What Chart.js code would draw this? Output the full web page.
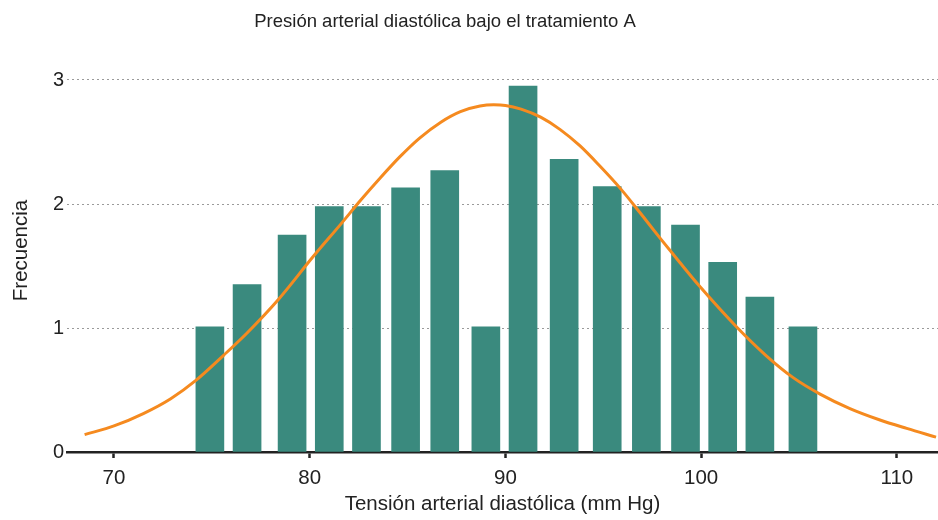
<!DOCTYPE html>
<html>
<head>
<meta charset="utf-8">
<script src="https://cdn.jsdelivr.net/npm/chart.js@4/dist/chart.umd.min.js"></script>
<style>
  html, body { margin: 0; padding: 0; background: #fff; }
  #wrap { width: 938px; height: 520px; }
</style>
</head>
<body>
<div id="wrap"><canvas id="bpChart" width="938" height="520"></canvas></div>
<script>
// histogram bins (bin centre, mm Hg) and their frequencies
const binCenters = [74.9, 76.8, 79.1, 81.0, 82.9, 84.9, 86.9, 89.0, 90.9, 93.0, 95.2, 97.2, 99.2, 101.1, 103.0, 105.2];
const frequencies = [1.01, 1.35, 1.75, 1.98, 1.98, 2.13, 2.27, 1.01, 2.95, 2.36, 2.14, 1.98, 1.83, 1.53, 1.25, 1.01];

// fitted density curve, scaled to the frequency axis
const curveX = [68.5, 70.0, 71.5, 72.9, 74.2, 75.6, 76.8, 78.4, 80.2, 81.6, 82.6, 83.6, 84.6, 85.6, 86.7, 87.7, 88.7, 89.4,
                90.0, 90.8, 91.8, 92.8, 93.8, 94.8, 95.9, 96.9, 97.9, 98.9, 99.9, 101.8, 103.3, 104.7, 106.1, 107.6, 109.1, 110.5, 112.0];
const curveY = [0.14, 0.21, 0.31, 0.43, 0.58, 0.78, 0.96, 1.23, 1.58, 1.84, 2.03, 2.21, 2.38, 2.53, 2.66, 2.745, 2.79, 2.80,
                2.795, 2.765, 2.70, 2.60, 2.47, 2.31, 2.12, 1.925, 1.725, 1.53, 1.34, 1.01, 0.78, 0.60, 0.465, 0.35, 0.26, 0.19, 0.12];

const xTicks = [70, 80, 90, 100, 110];
const yTicks = [0, 1, 2, 3];

const chartTitle = "Presión arterial diastólica bajo el tratamiento A";
const textColor = "#222";

// title is drawn by hand so it can sit a little left of centre
const titlePlugin = {
  id: "plotTitle",
  afterDraw(chart) {
    const ctx = chart.ctx;
    ctx.save();
    ctx.font = "18.5px 'Liberation Sans', Arial, sans-serif";
    ctx.fillStyle = textColor;
    ctx.textAlign = "center";
    ctx.textBaseline = "alphabetic";
    ctx.fillText(chartTitle, 445, 26.5);
    ctx.restore();
  }
};

const ctx = document.getElementById("bpChart").getContext("2d");

new Chart(ctx, {
  type: "bar",
  data: {
    datasets: [
      {
        type: "line",
        label: "Curva normal",
        data: curveX.map((x, i) => ({ x: x, y: curveY[i] })),
        borderColor: "#f58a1f",
        borderWidth: 3,
        pointRadius: 0,
        fill: false,
        cubicInterpolationMode: "monotone",
        order: 0
      },
      {
        type: "bar",
        label: "Frecuencia",
        data: binCenters.map((x, i) => ({ x: x, y: frequencies[i] })),
        backgroundColor: "#3a8a7e",
        borderWidth: 0,
        barThickness: 28,
        order: 1
      }
    ]
  },
  options: {
    responsive: false,
    animation: false,
    layout: { padding: { top: 49, right: 0, left: 0, bottom: 0 } },
    plugins: {
      legend: { display: false },
      tooltip: { enabled: false },
      title: { display: false }
    },
    scales: {
      x: {
        type: "linear",
        min: 67.6,
        max: 112.1,
        offset: false,
        afterFit(scale) { scale.height = 68; },
        afterBuildTicks(scale) { scale.ticks = xTicks.map(v => ({ value: v })); },
        grid: {
          display: true,
          drawOnChartArea: false,
          drawTicks: true,
          tickLength: 6,
          tickWidth: 2.5,
          tickColor: textColor,
          offset: false
        },
        border: { display: true, color: textColor, width: 2.5 },
        ticks: {
          padding: 8,
          color: textColor,
          font: { family: "'Liberation Sans', Arial, sans-serif", size: 20.5 }
        },
        title: {
          display: true,
          text: "Tensión arterial diastólica (mm Hg)",
          color: textColor,
          padding: { top: 0, bottom: 3 },
          font: { family: "'Liberation Sans', Arial, sans-serif", size: 20.5 }
        }
      },
      y: {
        min: 0,
        max: 3.25,
        afterFit(scale) { scale.width = 67; },
        afterBuildTicks(scale) { scale.ticks = yTicks.map(v => ({ value: v })); },
        grid: {
          color: "#9a9a9a",
          lineWidth: 1,
          drawTicks: false
        },
        border: { display: false, dash: [2, 3] },
        ticks: {
          padding: 3,
          color: textColor,
          font: { family: "'Liberation Sans', Arial, sans-serif", size: 20 }
        },
        title: {
          display: true,
          text: "Frecuencia",
          color: textColor,
          padding: { top: 9, bottom: 0 },
          font: { family: "'Liberation Sans', Arial, sans-serif", size: 20.5 }
        }
      }
    }
  },
  plugins: [titlePlugin]
});
</script>
</body>
</html>
